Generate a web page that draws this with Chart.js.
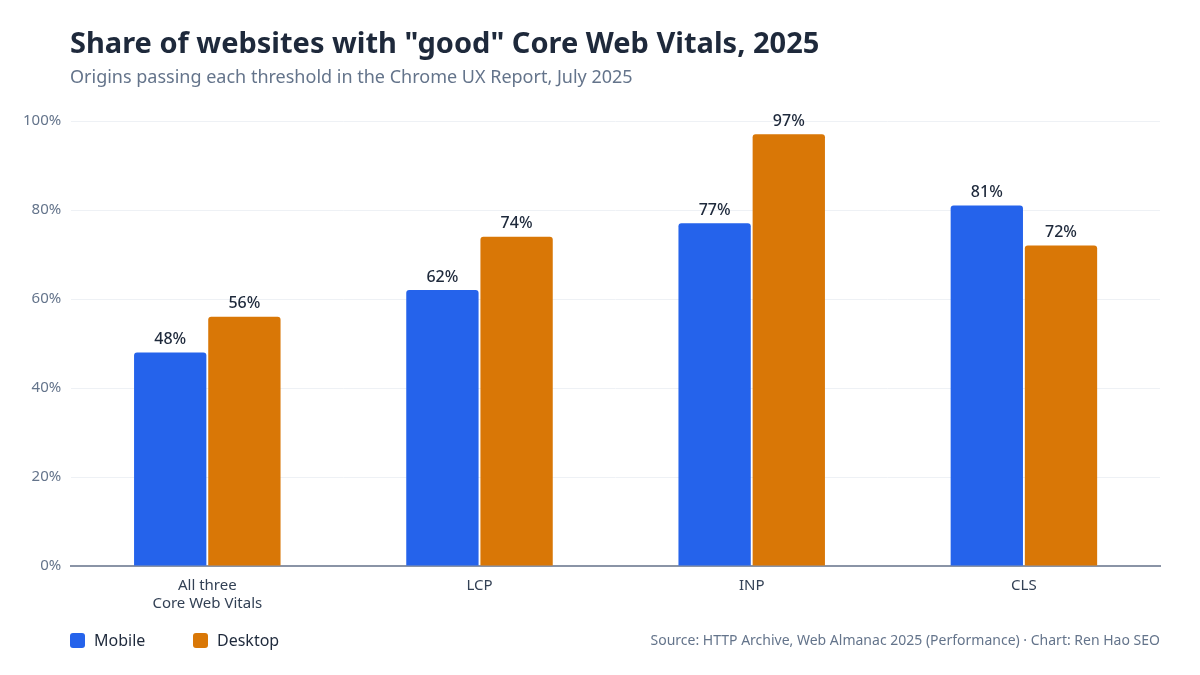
<!DOCTYPE html>
<html>
<head>
<meta charset="utf-8">
<script src="https://cdn.jsdelivr.net/npm/chart.js@4.4.1/dist/chart.umd.min.js"></script>
<style>
  html, body { margin: 0; padding: 0; background: #fff; }
  body { width: 1200px; height: 675px; position: relative; overflow: hidden; font-family: "Noto Sans", sans-serif; }
  #title { position: absolute; left: 70px; top: 22px; font-size: 29px; font-weight: 700; color: #1e293b; }
  #subtitle { position: absolute; left: 70px; top: 64px; font-size: 18px; color: #64748b; }
  #source { position: absolute; right: 40px; top: 630px; font-size: 14px; color: #64748b; }
  #wrap { position: absolute; left: 0; top: 0; width: 1200px; height: 675px; }
  .legend { position: absolute; top: 629px; font-size: 16px; color: #1e293b; display: flex; align-items: center; }
  .legend span.box { display: inline-block; width: 15px; height: 15px; border-radius: 3px; margin-right: 9px; }
</style>
</head>
<body>
<div id="wrap"><canvas id="chart"></canvas></div>
<div id="title">Share of websites with "good" Core Web Vitals, 2025</div>
<div id="subtitle">Origins passing each threshold in the Chrome UX Report, July 2025</div>
<div class="legend" style="left:70px"><span class="box" style="background:#2563eb"></span>Mobile</div>
<div class="legend" style="left:193px"><span class="box" style="background:#d97706"></span>Desktop</div>
<div id="source">Source: HTTP Archive, Web Almanac 2025 (Performance) · Chart: Ren Hao SEO</div>
<script>
// Daten
const categories = [['All three', 'Core Web Vitals'], 'LCP', 'INP', 'CLS'];
const mobileValues = [48, 62, 77, 81];
const desktopValues = [56, 74, 97, 72];
const yTicks = [0, 20, 40, 60, 80, 100];

const blue = '#2563eb';
const orange = '#d97706';

// Werte über den Balken
const valueLabels = {
    id: 'valueLabels',
    afterDatasetsDraw(chart) {
        const ctx = chart.ctx;
        ctx.save();
        ctx.font = '500 16px "Noto Sans"';
        ctx.fillStyle = '#1e293b';
        ctx.textAlign = 'center';
        ctx.textBaseline = 'bottom';
        chart.data.datasets.forEach((ds, i) => {
            chart.getDatasetMeta(i).data.forEach((bar, j) => {
                ctx.fillText(ds.data[j] + '%', bar.x, bar.y - 5);
            });
        });
        ctx.restore();
    }
};

const ctx = document.getElementById('chart').getContext('2d');
new Chart(ctx, {
    type: 'bar',
    data: {
        labels: categories,
        datasets: [
            {
                label: 'Mobile',
                data: mobileValues,
                backgroundColor: blue,
                borderRadius: { topLeft: 3, topRight: 3 },
                borderSkipped: 'bottom'
            },
            {
                label: 'Desktop',
                data: desktopValues,
                backgroundColor: orange,
                borderRadius: { topLeft: 3, topRight: 3 },
                borderSkipped: 'bottom'
            }
        ]
    },
    options: {
        responsive: true,
        maintainAspectRatio: false,
        animation: false,
        layout: { padding: { top: 121, left: 13, right: 40, bottom: 59 } },
        datasets: {
            bar: { categoryPercentage: 0.545, barPercentage: 0.975 }
        },
        scales: {
            x: {
                grid: { display: false },
                border: { display: true, color: '#8a94a6', width: 2 },
                ticks: {
                    color: '#334155',
                    font: { family: 'Noto Sans', size: 15 },
                    padding: 3
                }
            },
            y: {
                min: 0,
                max: 100,
                afterBuildTicks(axis) {
                    axis.ticks = yTicks.map(v => ({ value: v }));
                },
                grid: { color: '#eef1f5', lineWidth: 1, drawTicks: false },
                border: { display: false },
                ticks: {
                    color: '#64748b',
                    font: { family: 'Noto Sans', size: 15 },
                    padding: 10,
                    callback: v => v + '%'
                }
            }
        },
        plugins: {
            legend: { display: false },
            tooltip: { enabled: false }
        }
    },
    plugins: [valueLabels]
});
</script>
</body>
</html>
